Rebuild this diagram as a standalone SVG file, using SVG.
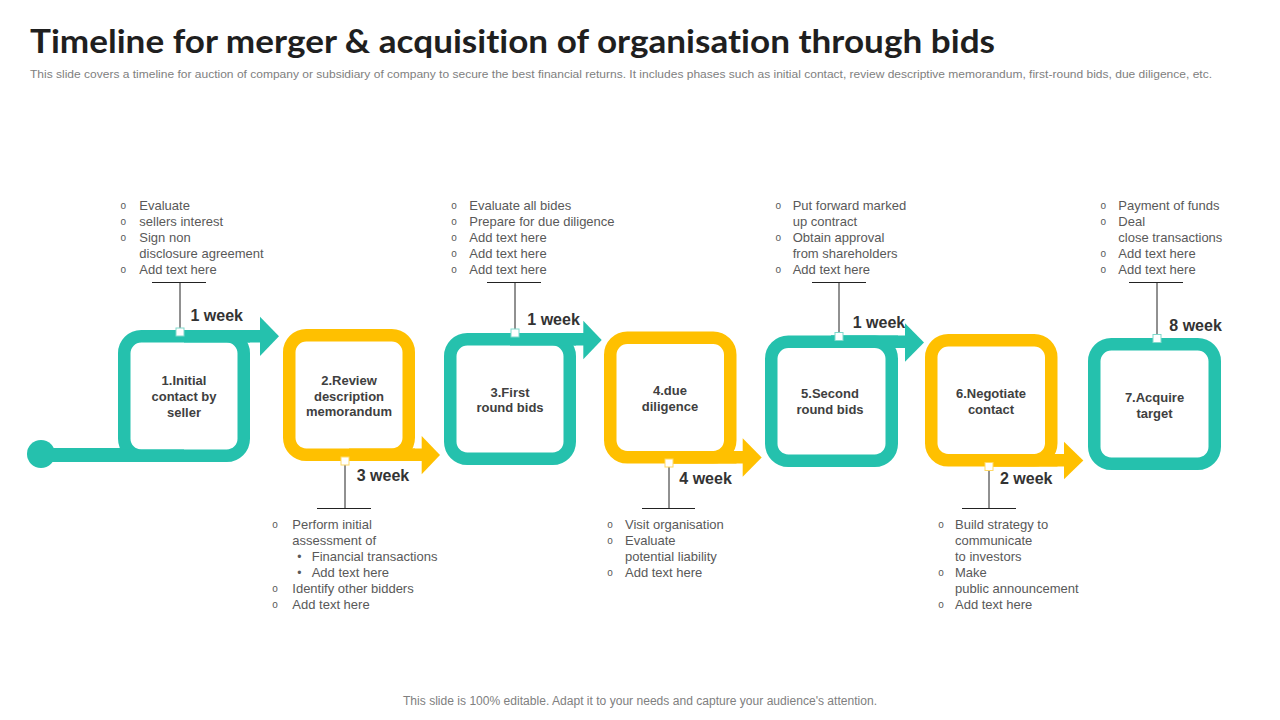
<svg xmlns="http://www.w3.org/2000/svg" width="1280" height="720" viewBox="0 0 1280 720">
<style>
.title{font-family:Lato,"Liberation Sans",sans-serif;font-weight:700;font-size:32px;fill:#1f1f1f;font-variant-ligatures:none;font-feature-settings:"liga" 0}
.sub{font-family:"Liberation Sans",Arial,sans-serif;font-size:11px;fill:#808080}
.foot{font-family:"Liberation Sans",Arial,sans-serif;font-size:12px;fill:#808080}
.ringT{fill:#fff;stroke:#25C1AD;stroke-width:12.5}
.ringY{fill:#fff;stroke:#FFC000;stroke-width:12.5}
.fT{fill:#25C1AD}
.fY{fill:#FFC000}
.lbl{font-family:"Liberation Sans",Arial,sans-serif;font-weight:700;font-size:13px;fill:#404040;text-anchor:middle}
.wk{font-family:"Liberation Sans",Arial,sans-serif;font-weight:700;font-size:16px;fill:#333}
.tx{font-family:"Liberation Sans",Arial,sans-serif;font-size:13px;fill:#595959}
.bl{font-family:"Liberation Sans",Arial,sans-serif;font-size:10px;fill:#595959;text-anchor:middle}
.sb{font-family:"Liberation Sans",Arial,sans-serif;font-size:12px;fill:#595959;text-anchor:middle}
.ln{stroke:#222;stroke-width:1;fill:none}
.sqT{fill:#fff;stroke:#7fd9cc;stroke-width:1}
.sqY{fill:#fff;stroke:#ffd966;stroke-width:1}
</style>

<text class="title" x="30" y="53" textLength="965" lengthAdjust="spacingAndGlyphs">Timeline for merger &amp; acquisition of organisation through bids</text>
<text class="sub" x="30" y="78" textLength="1182" lengthAdjust="spacingAndGlyphs">This slide covers a timeline for auction of company or subsidiary of company to secure the best financial returns. It includes phases such as initial contact, review descriptive memorandum, first-round bids, due diligence, etc.</text>

<g id="connectors">
  <circle class="fT" cx="41" cy="454" r="14"/>
  <rect class="fT" x="41" y="448" width="143" height="14"/>
  <rect class="fT" x="184" y="330" width="77" height="12.5"/>
  <polygon class="fT" points="260,316.7 279,336.3 260,356"/>
  <rect class="fY" x="349" y="448.5" width="73" height="12.5"/>
  <polygon class="fY" points="421.7,436 440,455 421.7,474.3"/>
  <rect class="fT" x="510" y="333" width="74" height="12.5"/>
  <polygon class="fT" points="583.3,320.7 601.7,340 583.3,359.3"/>
  <rect class="fY" x="670" y="451" width="73.5" height="12.5"/>
  <polygon class="fY" points="742.7,438.3 761.7,457.5 742.7,476.7"/>
  <rect class="fT" x="831" y="335.5" width="74.5" height="12.5"/>
  <polygon class="fT" points="905,323.3 924,342.5 905,361.7"/>
  <rect class="fY" x="991" y="454" width="73.5" height="12.5"/>
  <polygon class="fY" points="1064,441.7 1083.3,460.5 1064,479.3"/>
  <path class="ln" d="M152,282.5 H206 M180,282.5 V328"/>
  <path class="ln" d="M317,508.5 H371 M345,465 V508.5"/>
  <path class="ln" d="M487,282.5 H541 M515,282.5 V329"/>
  <path class="ln" d="M642,508.5 H695 M669,467 V508.5"/>
  <path class="ln" d="M812,282.5 H866 M839,282.5 V332.5"/>
  <path class="ln" d="M962,508.5 H1016 M989,470.5 V508.5"/>
  <path class="ln" d="M1129,282.5 H1183 M1157,282.5 V334.5"/>
</g>

<g id="node1">
  <rect class="ringT" x="124.25" y="336.25" width="119.5" height="119.5" rx="17"/>
  <rect class="fT" x="184" y="330" width="66" height="12.5"/>
  <rect class="fT" x="118" y="449.5" width="66" height="12.5"/>
  <rect class="sqT" x="176" y="328" width="8" height="8"/>
  <text class="lbl" x="184" y="385">1.Initial</text>
  <text class="lbl" x="184" y="401">contact by</text>
  <text class="lbl" x="184" y="417">seller</text>
  <text class="wk" x="190.5" y="321">1 week</text>
  <text class="bl" x="123.3" y="209">o</text><text class="tx" x="139.3" y="209.5">Evaluate</text>
  <text class="bl" x="123.3" y="225">o</text><text class="tx" x="139.3" y="225.5">sellers interest</text>
  <text class="bl" x="123.3" y="241">o</text><text class="tx" x="139.3" y="241.5">Sign non</text>
  <text class="tx" x="139.3" y="257.5">disclosure agreement</text>
  <text class="bl" x="123.3" y="273">o</text><text class="tx" x="139.3" y="273.5">Add text here</text>
</g>

<g id="node2">
  <rect class="ringY" x="289.25" y="335.25" width="119.5" height="119.5" rx="17"/>
  <rect class="fY" x="349" y="448.5" width="66" height="12.5"/>
  <rect class="sqY" x="341" y="457" width="8" height="8"/>
  <text class="lbl" x="349" y="384.5">2.Review</text>
  <text class="lbl" x="349" y="400.5">description</text>
  <text class="lbl" x="349" y="416">memorandum</text>
  <text class="wk" x="356.7" y="481">3 week</text>
  <text class="bl" x="275" y="528">o</text><text class="tx" x="292.3" y="528.5">Perform initial</text>
  <text class="tx" x="292.3" y="544.5">assessment of</text>
  <text class="sb" x="299.3" y="560.5">•</text><text class="tx" x="311.7" y="560.5">Financial transactions</text>
  <text class="sb" x="299.3" y="576.5">•</text><text class="tx" x="311.7" y="576.5">Add text here</text>
  <text class="bl" x="275" y="592">o</text><text class="tx" x="292.3" y="592.5">Identify other bidders</text>
  <text class="bl" x="275" y="608">o</text><text class="tx" x="292.3" y="608.5">Add text here</text>
</g>

<g id="node3">
  <rect class="ringT" x="450.25" y="339.25" width="119.5" height="119.5" rx="17"/>
  <rect class="fT" x="510" y="333" width="66" height="12.5"/>
  <rect class="sqT" x="511" y="329" width="8" height="8"/>
  <text class="lbl" x="510" y="396.5">3.First</text>
  <text class="lbl" x="510" y="412">round bids</text>
  <text class="wk" x="527.3" y="325">1 week</text>
  <text class="bl" x="454" y="209">o</text><text class="tx" x="469.3" y="209.5">Evaluate all bides</text>
  <text class="bl" x="454" y="225">o</text><text class="tx" x="469.3" y="225.5">Prepare for due diligence</text>
  <text class="bl" x="454" y="241">o</text><text class="tx" x="469.3" y="241.5">Add text here</text>
  <text class="bl" x="454" y="257">o</text><text class="tx" x="469.3" y="257.5">Add text here</text>
  <text class="bl" x="454" y="273">o</text><text class="tx" x="469.3" y="273.5">Add text here</text>
</g>

<g id="node4">
  <rect class="ringY" x="610.25" y="337.75" width="120" height="119.5" rx="17"/>
  <rect class="fY" x="670" y="451" width="66.5" height="12.5"/>
  <rect class="sqY" x="665" y="459" width="8" height="8"/>
  <text class="lbl" x="670" y="395">4.due</text>
  <text class="lbl" x="670" y="411">diligence</text>
  <text class="wk" x="679.3" y="484">4 week</text>
  <text class="bl" x="610" y="528">o</text><text class="tx" x="625" y="528.5">Visit organisation</text>
  <text class="bl" x="610" y="544">o</text><text class="tx" x="625" y="544.5">Evaluate</text>
  <text class="tx" x="625" y="560.5">potential liability</text>
  <text class="bl" x="610" y="576">o</text><text class="tx" x="625" y="576.5">Add text here</text>
</g>

<g id="node5">
  <rect class="ringT" x="771.25" y="341.75" width="120.5" height="119" rx="17"/>
  <rect class="fT" x="831" y="335.5" width="67" height="12.5"/>
  <rect class="sqT" x="835" y="332.5" width="8" height="8"/>
  <text class="lbl" x="830" y="398">5.Second</text>
  <text class="lbl" x="830" y="414">round bids</text>
  <text class="wk" x="852.7" y="327.5">1 week</text>
  <text class="bl" x="778.3" y="209">o</text><text class="tx" x="792.7" y="209.5">Put forward marked</text>
  <text class="tx" x="792.7" y="225.5">up contract</text>
  <text class="bl" x="778.3" y="241">o</text><text class="tx" x="792.7" y="241.5">Obtain approval</text>
  <text class="tx" x="792.7" y="257.5">from shareholders</text>
  <text class="bl" x="778.3" y="273">o</text><text class="tx" x="792.7" y="273.5">Add text here</text>
</g>

<g id="node6">
  <rect class="ringY" x="931.25" y="340.25" width="120" height="120" rx="17"/>
  <rect class="fY" x="991" y="454" width="66.5" height="12.5"/>
  <rect class="sqY" x="985" y="462.5" width="8" height="8"/>
  <text class="lbl" x="991" y="397.5">6.Negotiate</text>
  <text class="lbl" x="991" y="413.5">contact</text>
  <text class="wk" x="1000" y="484">2 week</text>
  <text class="bl" x="941" y="528">o</text><text class="tx" x="955" y="528.5">Build strategy to</text>
  <text class="tx" x="955" y="544.5">communicate</text>
  <text class="tx" x="955" y="560.5">to investors</text>
  <text class="bl" x="941" y="576">o</text><text class="tx" x="955" y="576.5">Make</text>
  <text class="tx" x="955" y="592.5">public announcement</text>
  <text class="bl" x="941" y="608">o</text><text class="tx" x="955" y="608.5">Add text here</text>
</g>

<g id="node7">
  <rect class="ringT" x="1094.25" y="344.25" width="120.5" height="119.5" rx="17"/>
  <rect class="sqT" x="1153" y="334.5" width="8" height="8"/>
  <text class="lbl" x="1154.5" y="401.5">7.Acquire</text>
  <text class="lbl" x="1154.5" y="417.5">target</text>
  <text class="wk" x="1169.3" y="331">8 week</text>
  <text class="bl" x="1103.3" y="209">o</text><text class="tx" x="1118.3" y="209.5">Payment of funds</text>
  <text class="bl" x="1103.3" y="225">o</text><text class="tx" x="1118.3" y="225.5">Deal</text>
  <text class="tx" x="1118.3" y="241.5">close transactions</text>
  <text class="bl" x="1103.3" y="257">o</text><text class="tx" x="1118.3" y="257.5">Add text here</text>
  <text class="bl" x="1103.3" y="273">o</text><text class="tx" x="1118.3" y="273.5">Add text here</text>
</g>

<text class="foot" x="640" y="705" text-anchor="middle" textLength="474" lengthAdjust="spacingAndGlyphs">This slide is 100% editable. Adapt it to your needs and capture your audience's attention.</text>
</svg>
